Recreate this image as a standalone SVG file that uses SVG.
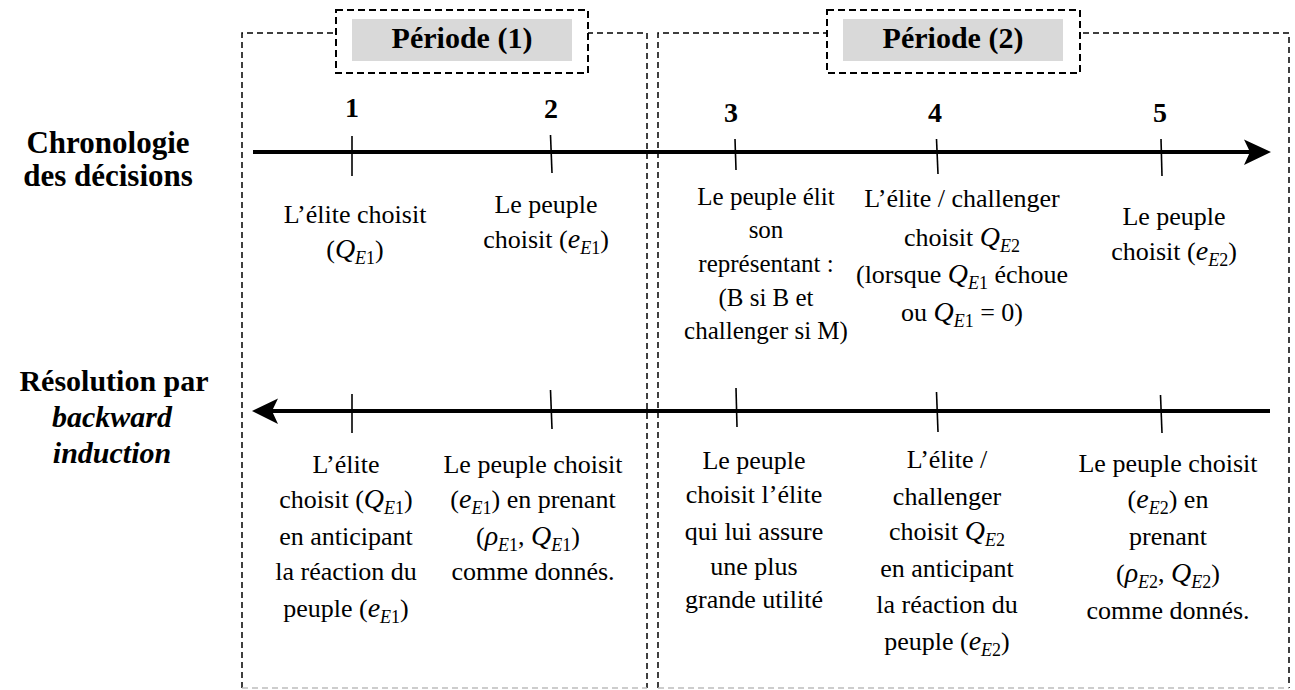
<svg xmlns="http://www.w3.org/2000/svg" width="1295" height="690" viewBox="0 0 1295 690">
<rect width="1295" height="690" fill="#fff"/>

<g id="frame-periode1" fill="none" stroke-width="1.5" stroke-dasharray="6 4">
  <path stroke="#000" d="M242,688 V33 H647 V688"/>
  <path stroke="#bdbdbd" d="M242,688 H647"/>
</g>
<g id="frame-periode2" fill="none" stroke-width="1.5" stroke-dasharray="6 4">
  <path stroke="#000" d="M658,688 V33 H1289 V688"/>
  <path stroke="#bdbdbd" d="M658,688 H1289"/>
</g>

<g id="label-periode1" font-weight="bold" font-size="30" text-anchor="middle">
  <rect x="336" y="10" width="252" height="63" fill="#fff" stroke="#000" stroke-width="2" stroke-dasharray="7 4"/>
  <rect x="352" y="19" width="220" height="42" fill="#d9d9d9"/>
  <text style="font-family:'Liberation Serif',serif" x="462" y="48">Période (1)</text>
</g>
<g id="label-periode2" font-weight="bold" font-size="30" text-anchor="middle">
  <rect x="827" y="10" width="253" height="63" fill="#fff" stroke="#000" stroke-width="2" stroke-dasharray="7 4"/>
  <rect x="843" y="19" width="220" height="42" fill="#d9d9d9"/>
  <text style="font-family:'Liberation Serif',serif" x="953" y="48">Période (2)</text>
</g>

<g id="row-labels" font-weight="bold" font-size="30" text-anchor="middle">
  <text style="font-family:'Liberation Serif',serif" x="108" y="153" font-size="31">Chronologie</text>
  <text style="font-family:'Liberation Serif',serif" x="108" y="186" font-size="31">des décisions</text>
  <text style="font-family:'Liberation Serif',serif" x="114" y="391">Résolution par</text>
  <text style="font-family:'Liberation Serif',serif" x="112" y="427" font-style="italic">backward</text>
  <text style="font-family:'Liberation Serif',serif" x="112" y="463" font-style="italic">induction</text>
</g>

<g id="connectors" stroke="#000">
  <line x1="253" y1="152" x2="1252" y2="152" stroke-width="4"/>
  <path d="M1271,152 L1244,139.5 L1250,152 L1244,165 Z" fill="#000" stroke="none"/>
  <line x1="270" y1="411" x2="1270" y2="411" stroke-width="4"/>
  <path d="M252,411 L278,398.5 L272,411 L278,424 Z" fill="#000" stroke="none"/>
  <g stroke-width="1.6">
    <line x1="352" y1="136" x2="352" y2="176"/>
    <line x1="550.5" y1="135" x2="552" y2="173"/>
    <line x1="735" y1="139" x2="736" y2="170"/>
    <line x1="936.5" y1="139" x2="938" y2="174"/>
    <line x1="1161" y1="139" x2="1162" y2="176"/>
    <line x1="352" y1="394" x2="352" y2="433"/>
    <line x1="550.5" y1="390" x2="552" y2="429"/>
    <line x1="736" y1="388" x2="737" y2="427"/>
    <line x1="936.5" y1="392" x2="938" y2="432"/>
    <line x1="1160.5" y1="395" x2="1162" y2="433"/>
  </g>
</g>

<g id="step1" font-size="26" text-anchor="middle">
  <text style="font-family:'Liberation Serif',serif" x="352" y="117" font-size="28" font-weight="bold">1</text>
  <text style="font-family:'Liberation Serif',serif" x="355" y="223">L’élite choisit</text>
  <text style="font-family:'Liberation Serif',serif" x="355" y="258">(<tspan font-style="italic" font-size="28">Q</tspan><tspan font-size="18" dy="6"><tspan font-style="italic">E</tspan>1</tspan><tspan dy="-6">)</tspan></text>
</g>
<g id="step2" font-size="26" text-anchor="middle">
  <text style="font-family:'Liberation Serif',serif" x="551" y="118" font-size="28" font-weight="bold">2</text>
  <text style="font-family:'Liberation Serif',serif" x="546" y="213">Le peuple</text>
  <text style="font-family:'Liberation Serif',serif" x="546" y="248">choisit (<tspan font-style="italic" font-size="28">e</tspan><tspan font-size="18" dy="6"><tspan font-style="italic">E</tspan>1</tspan><tspan dy="-6">)</tspan></text>
</g>
<g id="step3" font-size="25" text-anchor="middle">
  <text style="font-family:'Liberation Serif',serif" x="731" y="122" font-size="28" font-weight="bold">3</text>
  <text style="font-family:'Liberation Serif',serif" x="766" y="205">Le peuple élit</text>
  <text style="font-family:'Liberation Serif',serif" x="766" y="238">son</text>
  <text style="font-family:'Liberation Serif',serif" x="766" y="272">représentant :</text>
  <text style="font-family:'Liberation Serif',serif" x="766" y="306">(B si B et</text>
  <text style="font-family:'Liberation Serif',serif" x="766" y="339">challenger si M)</text>
</g>
<g id="step4" font-size="26" text-anchor="middle">
  <text style="font-family:'Liberation Serif',serif" x="935" y="122" font-size="28" font-weight="bold">4</text>
  <text style="font-family:'Liberation Serif',serif" x="962" y="207">L’élite / challenger</text>
  <text style="font-family:'Liberation Serif',serif" x="962" y="246">choisit <tspan font-style="italic" font-size="28">Q</tspan><tspan font-size="18" dy="6"><tspan font-style="italic">E</tspan>2</tspan></text>
  <text style="font-family:'Liberation Serif',serif" x="962" y="283">(lorsque <tspan font-style="italic" font-size="28">Q</tspan><tspan font-size="18" dy="6"><tspan font-style="italic">E</tspan>1</tspan><tspan dy="-6"> échoue</tspan></text>
  <text style="font-family:'Liberation Serif',serif" x="962" y="321">ou <tspan font-style="italic" font-size="28">Q</tspan><tspan font-size="18" dy="6"><tspan font-style="italic">E</tspan>1</tspan><tspan dy="-6"> = 0)</tspan></text>
</g>
<g id="step5" font-size="26" text-anchor="middle">
  <text style="font-family:'Liberation Serif',serif" x="1160" y="122" font-size="28" font-weight="bold">5</text>
  <text style="font-family:'Liberation Serif',serif" x="1174" y="225">Le peuple</text>
  <text style="font-family:'Liberation Serif',serif" x="1174" y="260">choisit (<tspan font-style="italic" font-size="28">e</tspan><tspan font-size="18" dy="6"><tspan font-style="italic">E</tspan>2</tspan><tspan dy="-6">)</tspan></text>
</g>

<g id="resolution1" font-size="26" text-anchor="middle">
  <text style="font-family:'Liberation Serif',serif" x="346" y="473">L’élite</text>
  <text style="font-family:'Liberation Serif',serif" x="346" y="508">choisit (<tspan font-style="italic" font-size="28">Q</tspan><tspan font-size="18" dy="6"><tspan font-style="italic">E</tspan>1</tspan><tspan dy="-6">)</tspan></text>
  <text style="font-family:'Liberation Serif',serif" x="346" y="545">en anticipant</text>
  <text style="font-family:'Liberation Serif',serif" x="346" y="580">la réaction du</text>
  <text style="font-family:'Liberation Serif',serif" x="346" y="617">peuple (<tspan font-style="italic" font-size="28">e</tspan><tspan font-size="18" dy="6"><tspan font-style="italic">E</tspan>1</tspan><tspan dy="-6">)</tspan></text>
</g>
<g id="resolution2" font-size="26" text-anchor="middle">
  <text style="font-family:'Liberation Serif',serif" x="533" y="473">Le peuple choisit</text>
  <text style="font-family:'Liberation Serif',serif" x="533" y="508">(<tspan font-style="italic" font-size="28">e</tspan><tspan font-size="18" dy="6"><tspan font-style="italic">E</tspan>1</tspan><tspan dy="-6">) en  prenant</tspan></text>
  <text style="font-family:'Liberation Serif',serif" x="528" y="545">(<tspan font-style="italic" font-size="28">ρ</tspan><tspan font-size="18" dy="6"><tspan font-style="italic">E</tspan>1</tspan><tspan dy="-6">, </tspan><tspan font-style="italic" font-size="28">Q</tspan><tspan font-size="18" dy="6"><tspan font-style="italic">E</tspan>1</tspan><tspan dy="-6">)</tspan></text>
  <text style="font-family:'Liberation Serif',serif" x="533" y="580">comme donnés.</text>
</g>
<g id="resolution3" font-size="26" text-anchor="middle">
  <text style="font-family:'Liberation Serif',serif" x="754" y="469">Le peuple</text>
  <text style="font-family:'Liberation Serif',serif" x="754" y="503">choisit l’élite</text>
  <text style="font-family:'Liberation Serif',serif" x="754" y="540">qui lui assure</text>
  <text style="font-family:'Liberation Serif',serif" x="754" y="575">une plus</text>
  <text style="font-family:'Liberation Serif',serif" x="754" y="608">grande utilité</text>
</g>
<g id="resolution4" font-size="26" text-anchor="middle">
  <text style="font-family:'Liberation Serif',serif" x="947" y="468">L’élite /</text>
  <text style="font-family:'Liberation Serif',serif" x="947" y="505">challenger</text>
  <text style="font-family:'Liberation Serif',serif" x="947" y="540">choisit <tspan font-style="italic" font-size="28">Q</tspan><tspan font-size="18" dy="6"><tspan font-style="italic">E</tspan>2</tspan></text>
  <text style="font-family:'Liberation Serif',serif" x="947" y="577">en anticipant</text>
  <text style="font-family:'Liberation Serif',serif" x="947" y="613">la réaction du</text>
  <text style="font-family:'Liberation Serif',serif" x="947" y="650">peuple (<tspan font-style="italic" font-size="28">e</tspan><tspan font-size="18" dy="6"><tspan font-style="italic">E</tspan>2</tspan><tspan dy="-6">)</tspan></text>
</g>
<g id="resolution5" font-size="26" text-anchor="middle">
  <text style="font-family:'Liberation Serif',serif" x="1168" y="472">Le peuple choisit</text>
  <text style="font-family:'Liberation Serif',serif" x="1168" y="508">(<tspan font-style="italic" font-size="28">e</tspan><tspan font-size="18" dy="6"><tspan font-style="italic">E</tspan>2</tspan><tspan dy="-6">) en</tspan></text>
  <text style="font-family:'Liberation Serif',serif" x="1168" y="545">prenant</text>
  <text style="font-family:'Liberation Serif',serif" x="1168" y="582">(<tspan font-style="italic" font-size="28">ρ</tspan><tspan font-size="18" dy="6"><tspan font-style="italic">E</tspan>2</tspan><tspan dy="-6">, </tspan><tspan font-style="italic" font-size="28">Q</tspan><tspan font-size="18" dy="6"><tspan font-style="italic">E</tspan>2</tspan><tspan dy="-6">)</tspan></text>
  <text style="font-family:'Liberation Serif',serif" x="1168" y="619">comme donnés.</text>
</g>
</svg>
